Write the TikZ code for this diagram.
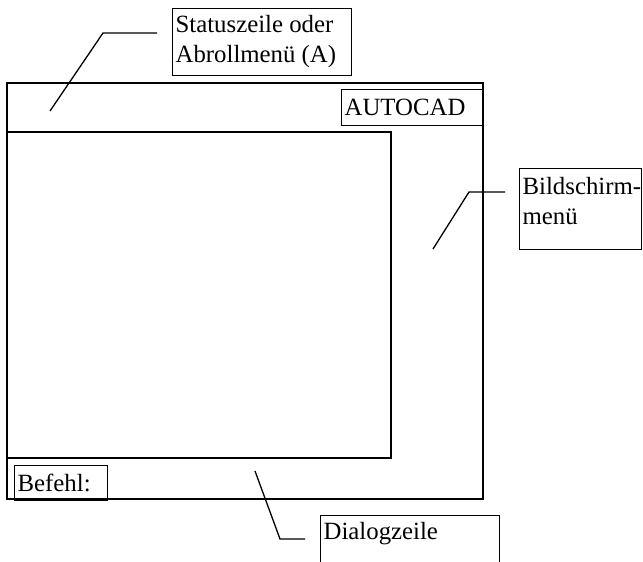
\documentclass[tikz,border=0pt]{standalone}
\usepackage{fontspec}
\setmainfont{Liberation Serif}
\begin{document}
\begin{tikzpicture}[x=0.5pt,y=-0.5pt,
    rahmen/.style={line width=0.9pt},
    hinweis/.style={line width=0.65pt},
    feld/.style={draw,line width=0.65pt,inner sep=1.5pt,anchor=north west,
        font=\fontsize{12.4}{15}\selectfont}]
    \useasboundingbox (0,0) rectangle (643,562);
    \clip (0,0) rectangle (643,562);

    % Bildschirm
    \draw[rahmen] (7,83) rectangle (483,499);
    \draw[rahmen] (7,132) rectangle (391,458);

    % Felder im Bildschirm
    \node[feld,minimum width=70.5pt,minimum height=18pt,text width=67.5pt,align=left] (autocad) at (341,89) {AUTOCAD};
    \node[feld,minimum width=46.5pt,minimum height=17.5pt,text width=43.5pt,align=left] (befehl) at (14,465) {Befehl:};

    % Beschriftungen
    \node[feld] (status) at (172,8) {\parbox[c][30.5pt][t]{86.5pt}{\raggedright\strut\mbox{Statuszeile oder}\\\mbox{Abrollmenü (A)}}};
    \node[feld] (bildschirm) at (519,168) {\parbox[c][37.5pt][t]{58pt}{\raggedright\vspace*{1pt}\strut\mbox{Bildschirm-}\\menü}};
    \node[feld] (dialog) at (320,515) {\parbox[c][40pt][t]{86.5pt}{\raggedright\strut Dialogzeile}};

    % Hinweislinien
    \coordinate (statusfuss) at (50,111);
    \coordinate (statusknick) at (103,33);
    \draw[hinweis] (statusfuss) -- (statusknick) -- ([shift={(-15,25)}]status.north west);

    \coordinate (bildschirmfuss) at (433,249);
    \coordinate (bildschirmknick) at (469,192);
    \draw[hinweis] (bildschirmfuss) -- (bildschirmknick) -- ([shift={(-14,24)}]bildschirm.north west);

    \coordinate (dialogfuss) at (255,471);
    \coordinate (dialogknick) at (280,539);
    \draw[hinweis] (dialogfuss) -- (dialogknick) -- ([shift={(-15,24)}]dialog.north west);
\end{tikzpicture}
\end{document}
